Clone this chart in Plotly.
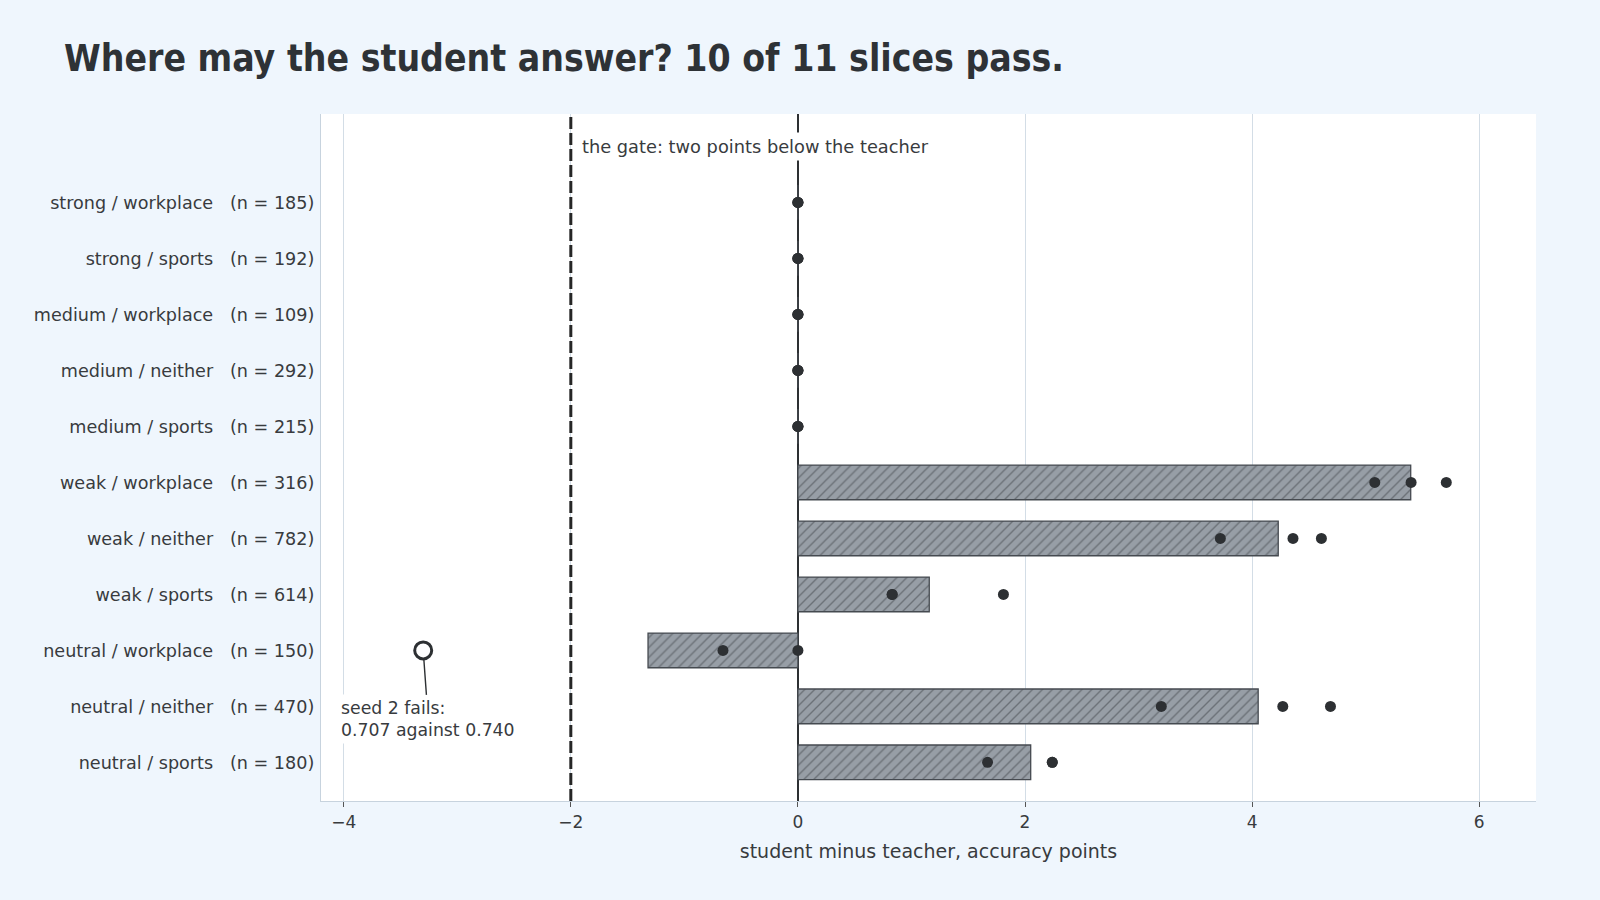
import numpy as np
import plotly.graph_objects as go

# ---- data ----
slices = [
    "strong / workplace", "strong / sports", "medium / workplace",
    "medium / neither", "medium / sports", "weak / workplace",
    "weak / neither", "weak / sports", "neutral / workplace",
    "neutral / neither", "neutral / sports",
]
n_items = [185, 192, 109, 292, 215, 316, 782, 614, 150, 470, 180]
seed_1 = [0.0, 0.0, 0.0, 0.0, 0.0, 5.08, 3.72, 0.83, -0.66, 3.20, 1.67]
seed_2 = [0.0, 0.0, 0.0, 0.0, 0.0, 5.40, 4.36, 0.83, -3.30, 4.27, 2.24]
seed_3 = [0.0, 0.0, 0.0, 0.0, 0.0, 5.71, 4.61, 1.81, 0.00, 4.69, 2.24]
gate = -2.0
x_ticks = [-4, -2, 0, 2, 4, 6]

title_text = "Where may the student answer? 10 of 11 slices pass."
gate_text = "the gate: two points below the teacher"
fail_text = "seed 2 fails:<br>0.707 against 0.740"
x_title = "student minus teacher, accuracy points"

# ---- derived ----
NB = "\u00a0"
labels = [f"{s}{NB*3}(n{NB}={NB}{n})" for s, n in zip(slices, n_items)]
seeds = np.array([seed_1, seed_2, seed_3])
means = seeds.mean(axis=0)

pts_x, pts_y, fail_x, fail_y = [], [], [], []
for row in seeds:
    for lab, v in zip(labels, row):
        if v < gate:
            fail_x.append(v); fail_y.append(lab)
        else:
            pts_x.append(v); pts_y.append(lab)

INK = "#2d3033"
TXT = "#383b3e"
FONT = "DejaVu Sans"

fig = go.Figure()
# gate line on a hidden overlay axis spanning the full plot height
fig.add_trace(go.Scatter(
    x=[gate, gate], y=[0, 1], yaxis="y2", mode="lines",
    line=dict(color="#262626", width=3, dash="12px,4px"),
    showlegend=False, hoverinfo="skip",
))
fig.add_trace(go.Bar(
    x=means, y=labels, orientation="h", width=0.62,
    marker=dict(
        color="#979ea6",
        line=dict(color="#454a50", width=1.3),
        pattern=dict(shape="/", fgcolor="#3f4449", size=7, solidity=0.2, fillmode="overlay"),
    ),
    showlegend=False, hoverinfo="skip",
))
fig.add_trace(go.Scatter(
    x=pts_x, y=pts_y, mode="markers",
    marker=dict(size=11, color=INK), showlegend=False,
))
fig.add_trace(go.Scatter(
    x=fail_x, y=fail_y, mode="markers",
    marker=dict(size=17, symbol="circle-open", color=INK, line=dict(width=3)),
    showlegend=False,
))

fig.add_annotation(x=gate, y=0.953, xref="x", yref="paper", text=gate_text,
                   showarrow=False, xanchor="left", yanchor="middle", xshift=7,
                   bgcolor="white", borderpad=3,
                   font=dict(family=FONT, size=17.8, color=TXT))
fig.add_annotation(x=fail_x[0], y=fail_y[0], xref="x", yref="y", text=fail_text,
                   showarrow=True, arrowhead=0, arrowwidth=1.4, arrowcolor=INK,
                   ax=5, ay=69, standoff=8, align="left",
                   bgcolor="white", borderpad=3,
                   font=dict(family=FONT, size=17.3, color=TXT))

fig.update_layout(
    width=1600, height=900,
    paper_bgcolor="#eff6fd", plot_bgcolor="white",
    margin=dict(l=321, r=64, t=114, b=99),
    font=dict(family=FONT, size=17, color=TXT),
    title=dict(text=title_text, x=64 / 1600, xanchor="left", xref="container",
               y=1 - 58 / 900, yanchor="middle", yref="container",
               font=dict(family="DejaVu Sans Condensed, DejaVu Sans", size=37,
                         color="#2e3236", weight="bold")),
    yaxis2=dict(overlaying="y", range=[0, 1], visible=False, fixedrange=True),
)
fig.update_xaxes(
    range=[-4.2, 6.5], tickvals=x_ticks, ticktext=[f"{t}".replace("-", "\u2212") for t in x_ticks],
    showgrid=True, gridcolor="#d3dde6", gridwidth=1.3,
    zeroline=True, zerolinecolor=INK, zerolinewidth=2,
    showline=True, linecolor="#c7d3de", linewidth=1.3,
    ticks="outside", ticklen=5, tickcolor="#555", tickfont=dict(size=17, color=TXT),
    title=dict(text=x_title, font=dict(size=19, color=TXT), standoff=14),
)
fig.update_yaxes(
    selector=dict(anchor="x"),
)
fig.layout.yaxis.update(
    categoryorder="array", categoryarray=labels,
    range=[10.69, -1.58], automargin=False,
    showgrid=False, zeroline=False,
    showline=True, linecolor="#c7d3de", linewidth=1.3,
    ticks="", tickfont=dict(size=17.6, color=TXT), ticklabelstandoff=2,
)

fig.write_html("out.html", config={"displayModeBar": False},
               post_script="document.body.style.margin='0';")
